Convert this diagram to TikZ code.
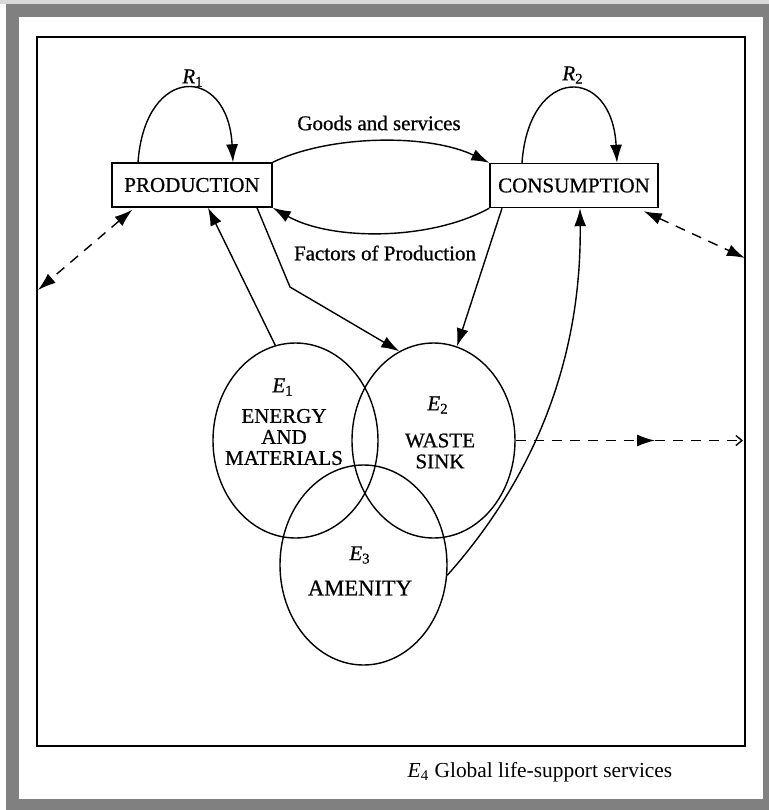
\documentclass[tikz,border=0pt]{standalone}
\usepackage{fontspec}
\setmainfont{Liberation Serif}
\newfontfamily\scan{Liberation Serif}[FakeBold=0.7]
\usetikzlibrary{arrows.meta,shapes.geometric,calc}
\newcommand{\sym}[2]{\textit{#1}\textsubscript{#2}}
\begin{document}
\begin{tikzpicture}[>={Latex[length=9pt,width=6pt]}, x=.5pt, y=-.5pt, line width=.7pt,
  box/.style={draw, inner sep=0pt, minimum height=22pt, font=\scan\fontsize{10.5}{10.5}\selectfont},
  sphere/.style={draw, ellipse, inner sep=0pt},
  word/.style={align=center, inner sep=0pt, font=\scan\fontsize{10.5}{10.5}\selectfont},
  dashline/.style={dash pattern=on 5pt off 4pt}]
\useasboundingbox (0,0) rectangle (769,810);
\fill[black!15] (0,0) rectangle (769,4);
\fill[black!50] (6,4) rectangle (769,810);
\fill[white] (19,17) rectangle (763,799);
\draw[line width=.75pt] (37,37) rectangle (745,746);
\coordinate (wl) at (38,290);
\coordinate (wr) at (745,258);
\coordinate (mid) at (655,440.5);
\coordinate (wr2) at (743,440.5);

\node[box, minimum width=80pt] (prod) at (192,185) {PRODUCTION};
\node[box, minimum width=84pt] (cons) at (574,185.5) {CONSUMPTION};
\node[sphere, minimum width=82.5pt, minimum height=97.5pt] (e1) at (295.5,440.5) {};
\node[sphere, minimum width=81.5pt, minimum height=97.5pt] (e2) at (433.5,440.5) {};
\node[sphere, minimum width=83.5pt, minimum height=100pt] (e3) at (363.5,565) {};

\node[word] (r1) at (193,78) {\sym{R}{1}};
\node[word] (r2) at (573,75) {\sym{R}{2}};
\node[word] (goods) at (379,123) {Goods and services};
\node[word] (factors) at (385,253) {Factors of Production};
\node[word] (l1) at (283,387) {\sym{E}{1}};
\node[word] (n1) at (284,437) {ENERGY\\AND\\MATERIALS};
\node[word] (l2) at (438,405) {\sym{E}{2}};
\node[word] (n2) at (440,451) {WASTE\\SINK};
\node[word] (l3) at (360,555) {\sym{E}{3}};
\node[word, font=\scan\fontsize{11.3}{12}\selectfont] (n3) at (360,588) {AMENITY};
\node[anchor=west, inner sep=0pt, font=\fontsize{10.7}{12}\selectfont] (e4) at (407,772) {\sym{E}{4} Global life-support services};

\draw[->] ($(prod.north)+(-54,0)$) .. controls +(7,-98) and +(-5,-98) .. ($(prod.north)+(41,0)$);
\draw[->] ($(cons.north)+(-52,0)$) .. controls +(7,-98) and +(-5,-98) .. ($(cons.north)+(43,0)$);
\draw[->] (prod.north east) .. controls +(58,-28) and +(-60,-29) .. (cons.north west);
\draw[->] (cons.south west) .. controls +(-60,33) and +(58,33) .. (prod.south east);
\draw[<->, dashline] ($(prod.south west)+(21,2)$) -- (wl);
\draw[<->, dashline] ($(cons.south east)+(-15,3)$) -- (wr);
\draw[->] (e1.102) -- ($(prod.south)+(16,0)$);
\draw[->] ($(prod.south)+(65,0)$) -- (290,287) -- (e2.111);
\draw[->] ($(cons.south)+(-72,0)$) -- (e2.76);
\draw[->] (e3.-7) .. controls (510,505) and (582,390) .. ($(cons.south)+(6,0)$);
\draw[dashline, -{Latex[length=9pt,width=6pt]}] (e2.east) -- (mid);
\draw[dashline, -{Straight Barb[length=3pt,width=5pt]}] (mid) -- (wr2);
\end{tikzpicture}
\end{document}
